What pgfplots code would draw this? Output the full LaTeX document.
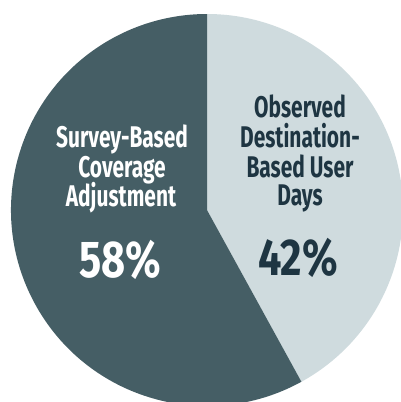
\documentclass[border=0pt]{standalone}
\usepackage{pgfplots}
\pgfplotsset{compat=1.18}
\usepackage{pgfplotstable}
\usepackage{fontspec}
\setmainfont{Fira Sans}
\newfontfamily\cond[FakeStretch=0.70]{Fira Sans}
\newfontfamily\condnum[FakeStretch=0.80]{Fira Sans}
\definecolor{darkslice}{HTML}{455E65}
\definecolor{lightslice}{HTML}{CFDBDE}
\definecolor{navytext}{HTML}{1E3542}

\pgfplotstableread{
label value
Observed 42
Survey 58
}\piedata

\begin{document}
\begin{tikzpicture}
\pgfplotstablegetelem{0}{value}\of\piedata
\pgfmathsetmacro\valA{\pgfplotsretval}
\pgfplotstablegetelem{1}{value}\of\piedata
\pgfmathsetmacro\valB{\pgfplotsretval}
\pgfmathsetmacro\angA{90-3.6*\valA}
\pgfmathsetmacro\angB{\angA-3.6*\valB}
\begin{axis}[
  x=1bp, y=1bp,
  xmin=0, xmax=401, ymin=0, ymax=402,
  hide axis, clip=true,
]
\fill[white] (axis cs:0,0) rectangle (axis cs:401,402);
% light slice (42%)
\fill[lightslice] (axis cs:207,192) -- (axis cs:207,388) arc[start angle=90, end angle=\angA, radius=196bp] -- cycle;
% dark slice (58%)
\fill[darkslice] (axis cs:207,192) -- ++(\angA:196bp) arc[start angle=\angA, end angle=\angB, radius=196bp] -- cycle;
% labels
\node[white, font=\cond\bfseries\fontsize{30}{30}\selectfont, anchor=base] at (axis cs:122,255) {Survey-Based};
\node[white, font=\cond\bfseries\fontsize{30}{30}\selectfont, anchor=base] at (axis cs:122,225) {Coverage};
\node[white, font=\cond\bfseries\fontsize{30}{30}\selectfont, anchor=base] at (axis cs:121,196) {Adjustment};
\node[white, font=\condnum\bfseries\fontsize{52}{52}\selectfont, anchor=base] at (axis cs:120,125) {58\%};
\node[navytext, font=\cond\bfseries\fontsize{30}{30}\selectfont, anchor=base] at (axis cs:300,285) {Observed};
\node[navytext, font=\cond\bfseries\fontsize{30}{30}\selectfont, anchor=base] at (axis cs:300,255) {Destination-};
\node[navytext, font=\cond\bfseries\fontsize{30}{30}\selectfont, anchor=base] at (axis cs:300,225) {Based User};
\node[navytext, font=\cond\bfseries\fontsize{30}{30}\selectfont, anchor=base] at (axis cs:300,197) {Days};
\node[navytext, font=\condnum\bfseries\fontsize{52}{52}\selectfont, anchor=base] at (axis cs:298,127) {42\%};
\end{axis}
\end{tikzpicture}
\end{document}
